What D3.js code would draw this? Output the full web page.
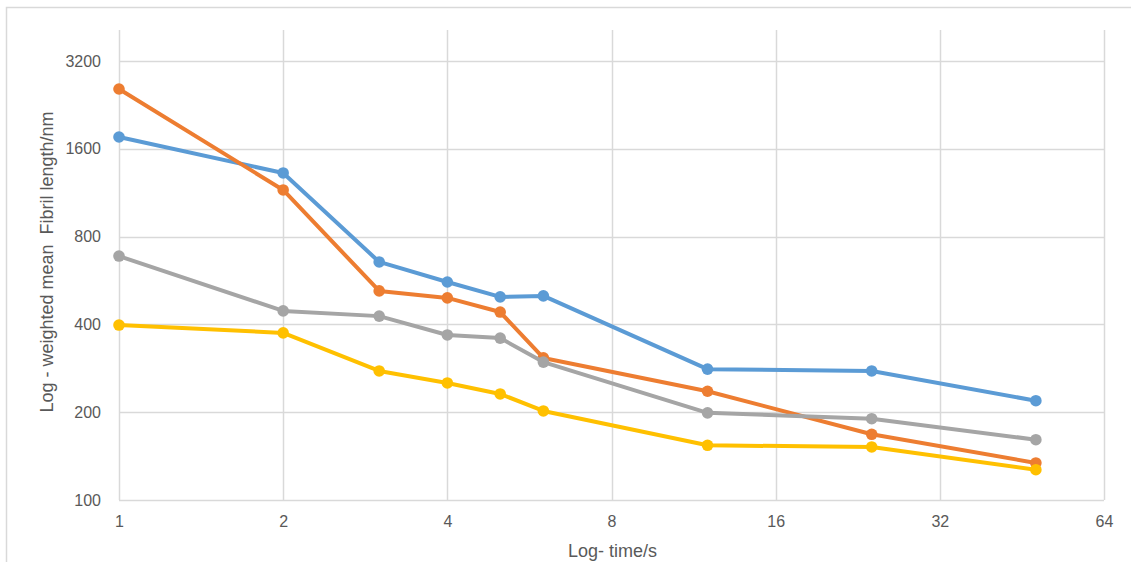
<!DOCTYPE html>
<html>
<head>
<meta charset="utf-8">
<script src="https://cdn.jsdelivr.net/npm/d3@7"></script>
<style>
  html, body { margin: 0; padding: 0; background: #fff; }
  svg { display: block; }
</style>
</head>
<body>
<svg id="chart" width="1131" height="562"></svg>
<script>
// ---- data ----
const times = [1, 2, 3, 4, 5, 6, 12, 24, 48];
const seriesNames = ["Series1", "Series2", "Series3", "Series4"];
const blueValues   = [1756, 1322, 655, 559, 497, 501, 281, 277, 219];
const orangeValues = [2565, 1156, 521, 493, 441, 307, 236, 168, 134];
const grayValues   = [686, 445, 427, 368, 359, 297, 199, 190, 161];
const yellowValues = [398, 374, 277, 252, 231, 202, 154, 152, 127];
const xTicks = [1, 2, 4, 8, 16, 32, 64];
const yTicks = [100, 200, 400, 800, 1600, 3200];
const xTitle = "Log- time/s";
const yTitle = "Log - weighted mean  Fibril length/nm";

// ---- layout ----
const W = 1131, H = 562;
const svg = d3.select("#chart");
const colors = ["#5B9BD5", "#ED7D31", "#A5A5A5", "#FFC000"];
const allSeries = [blueValues, orangeValues, grayValues, yellowValues];

const x = d3.scaleLog().base(2).domain([1, 64]).range([119, 1104]);
const y = d3.scaleLog().base(2).domain([100, 3200]).range([500, 61]);
const plotTop = 30;

// chart border
svg.append("rect")
  .attr("x", 6.5).attr("y", 7.5).attr("width", W).attr("height", H)
  .attr("fill", "none").attr("stroke", "#D9D9D9").attr("stroke-width", 1.5);

// gridlines
const grid = svg.append("g");
grid.selectAll("line.h").data(yTicks).join("line")
  .attr("x1", x(1)).attr("x2", x(64))
  .attr("y1", d => Math.round(y(d)) + 0.5).attr("y2", d => Math.round(y(d)) + 0.5)
  .attr("stroke", "#D9D9D9").attr("stroke-width", 1.5);
grid.selectAll("line.v").data(xTicks).join("line")
  .attr("y1", plotTop).attr("y2", y(100))
  .attr("x1", d => Math.round(x(d)) + 0.5).attr("x2", d => Math.round(x(d)) + 0.5)
  .attr("stroke", "#D9D9D9").attr("stroke-width", 1.5);

// axes (labels only)
const font = "'Liberation Sans', Arial, sans-serif";
const xAxis = d3.axisBottom(x).tickValues(xTicks).tickFormat(d3.format("d")).tickSize(0).tickPadding(16);
const yAxis = d3.axisLeft(y).tickValues(yTicks).tickFormat(d3.format("d")).tickSize(0).tickPadding(18);

const gx = svg.append("g").attr("transform", `translate(0,${y(100)})`).call(xAxis);
const gy = svg.append("g").attr("transform", `translate(${x(1)},0)`).call(yAxis);
[gx, gy].forEach(g => {
  g.select(".domain").remove();
  g.selectAll("text").attr("fill", "#595959").style("font-family", font).style("font-size", "16px");
});

// lines and markers
const line = d3.line().x((d, i) => x(times[i])).y(d => y(d));
allSeries.forEach((vals, si) => {
  const g = svg.append("g").attr("class", "series " + seriesNames[si]);
  g.append("path").datum(vals)
    .attr("d", line).attr("fill", "none")
    .attr("stroke", colors[si]).attr("stroke-width", 4)
    .attr("stroke-linejoin", "round").attr("stroke-linecap", "round");
  g.selectAll("circle").data(vals).join("circle")
    .attr("cx", (d, i) => x(times[i])).attr("cy", d => y(d))
    .attr("r", 5.8).attr("fill", colors[si]);
});

// titles
svg.append("text")
  .attr("x", (566 + 659) / 2).attr("y", 557)
  .attr("text-anchor", "middle")
  .attr("fill", "#595959").style("font-family", font).style("font-size", "18px")
  .text(xTitle);

svg.append("text")
  .attr("transform", "translate(53,262) rotate(-90)")
  .attr("text-anchor", "middle")
  .style("white-space", "pre")
  .attr("fill", "#595959").style("font-family", font).style("font-size", "18px")
  .text(yTitle);
</script>
</body>
</html>
